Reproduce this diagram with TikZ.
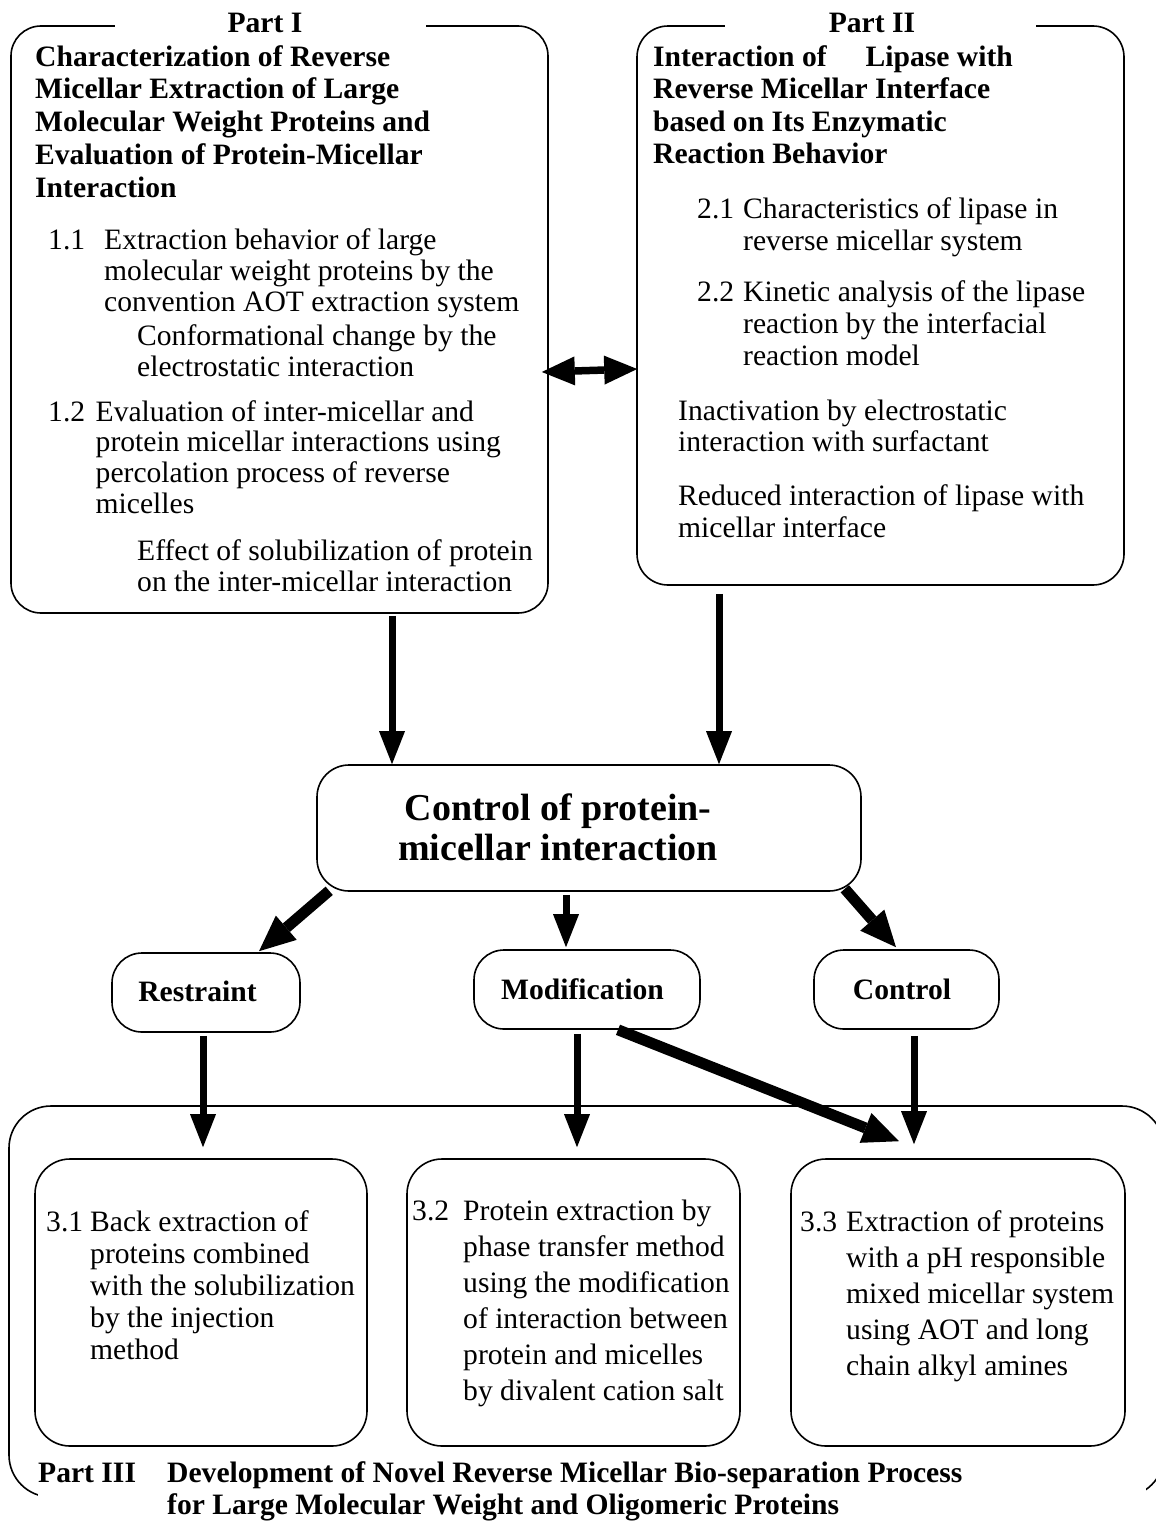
\documentclass[tikz,border=0pt]{standalone}
\usepackage{fontspec}
\setmainfont{Liberation Serif}
\usetikzlibrary{arrows.meta,calc}
\newcommand\myR[1]{\fontsize{29.6}{#1}\selectfont}
\newcommand\myB[1]{\bfseries\fontsize{29.6}{#1}\selectfont}
\begin{document}
\begin{tikzpicture}[x=1pt,y=-1pt,
  box/.style={draw,line width=1.6pt,rounded corners=#1,inner sep=0pt},
  box/.default=30pt,
  txt/.style={inner sep=0pt,align=left,anchor=north west},
  one/.style={inner sep=0pt,anchor=base west},
  lbl/.style={inner sep=0pt,anchor=base},
  arr/.style={line width=7pt,-{Triangle[length=33pt,width=26pt,line width=0pt]}},
  arrT/.style={line width=11pt,-{Triangle[length=36pt,width=32pt,line width=0pt]}},
  arrD/.style={line width=7.5pt,{Triangle[length=33pt,width=29pt,line width=0pt]}-{Triangle[length=33pt,width=29pt,line width=0pt]}}
]
\clip (0,0) rectangle (1156,1523);
\fill[white] (0,0) rectangle (1156,1523);

% boxes
\node[box=30pt, minimum width=537pt, minimum height=587pt] (p1) at (279.5,319.5) {};
\node[box=31pt, minimum width=487pt, minimum height=559pt] (p2) at (880.5,305.5) {};
\node[box=32pt, minimum width=544pt, minimum height=126pt] (ctr) at (589,828) {};
\node[box=30pt, minimum width=188pt, minimum height=79pt] (rst) at (206,992.5) {};
\node[box=30pt, minimum width=226pt, minimum height=79pt] (mod) at (587,989.5) {};
\node[box=30pt, minimum width=185pt, minimum height=79pt] (ctl) at (906.5,989.5) {};
\node[box=42pt, minimum width=1155pt, minimum height=391pt] (p3) at (586.5,1301.5) {};
\node[box=35pt, minimum width=332pt, minimum height=287pt] (b1) at (201,1302.5) {};
\node[box=35pt, minimum width=333pt, minimum height=287pt] (b2) at (573.5,1302.5) {};
\node[box=35pt, minimum width=334pt, minimum height=287pt] (b3) at (958,1302.5) {};

% gaps for titles
\fill[white] (115,10) rectangle (426,40);
\fill[white] (725,10) rectangle (1036,40);
\fill[white] (38,1452) rectangle (1146,1523);

% Part I
\node[lbl, font=\myB{32}] (t1) at (265,32) {Part I};
\node[txt, font=\myB{32.75}] (h1) at (35,43.1) {\strut Characterization of Reverse\\Micellar Extraction of Large\\Molecular Weight Proteins and\\Evaluation of Protein-Micellar\\Interaction};
\node[one, font=\myR{31}] (n11) at (48,249) {1.1};
\node[txt, font=\myR{31}] (t11) at (104,227.3) {\strut Extraction behavior of large\\molecular weight proteins by the\\convention AOT extraction system};
\node[txt, font=\myR{31}] (t11c) at (137,323.3) {\strut Conformational change by the\\electrostatic interaction};
\node[one, font=\myR{30.7}] (n12) at (48,421) {1.2};
\node[txt, font=\myR{30.7}] (t12) at (95.5,399.5) {\strut Evaluation of inter-micellar and\\protein micellar interactions using\\percolation process of reverse\\micelles};
\node[txt, font=\myR{31}] (t12c) at (137,538.3) {\strut Effect of solubilization of protein\\on the inter-micellar interaction};

% Part II
\node[lbl, font=\myB{32}] (t2) at (872,32) {Part II};
\node[txt, font=\myB{32.5}] (h2) at (653,43.25) {\strut Interaction of\hspace{39pt}Lipase with\\Reverse Micellar Interface\\based on Its Enzymatic\\Reaction Behavior};
\node[one, font=\myR{32}] (n21) at (697,218) {2.1};
\node[txt, font=\myR{32}] (t21) at (743,195.6) {\strut Characteristics of lipase in\\reverse micellar system};
\node[one, font=\myR{32}] (n22) at (697,301) {2.2};
\node[txt, font=\myR{32}] (t22) at (743,278.6) {\strut Kinetic analysis of the lipase\\reaction by the interfacial\\reaction model};
\node[txt, font=\myR{31.5}] (t23) at (678,397.9) {\strut Inactivation by electrostatic\\interaction with surfactant};
\node[txt, font=\myR{32}] (t24) at (678,482.6) {\strut Reduced interaction of lipase with\\micellar interface};

% center
\node[inner sep=0pt, align=center, anchor=north, font=\bfseries\fontsize{38}{40}\selectfont] (ct) at (558,792) {\strut Control of protein-\\micellar interaction};

% small labels
\node[lbl, font=\myB{32}] (lr) at (197.5,1001) {Restraint};
\node[lbl, font=\myB{32}] (lm) at (582.5,999) {Modification};
\node[lbl, font=\myB{32}] (lc) at (902,999) {Control};

% Part III
\node[one, font=\myR{32}] (n31) at (46,1231) {3.1};
\node[txt, font=\myR{32}] (t31) at (90,1208.6) {\strut Back extraction of\\proteins combined\\with the solubilization\\by the injection\\method};
\node[one, font=\myR{36}] (n32) at (412,1220) {3.2};
\node[txt, font=\myR{36}] (t32) at (463,1194.8) {\strut Protein extraction by\\phase transfer method\\using the modification\\of interaction between\\protein and micelles\\by divalent cation salt};
\node[one, font=\myR{36}] (n33) at (800,1231) {3.3};
\node[txt, font=\myR{36}] (t33) at (846,1205.8) {\strut Extraction of proteins\\with a pH responsible\\mixed micellar system\\using AOT and long\\chain alkyl amines};
\node[one, font=\myB{32}] (n3) at (38,1482) {Part III};
\node[txt, font=\myB{32}] (t3) at (167,1459.6) {\strut Development of Novel Reverse Micellar Bio-separation Process\\for Large Molecular Weight and Oligomeric Proteins};

% connectors
\draw[arr] ($(p1.south)+(112.5,2)$) -- ($(ctr.north)+(-197,0)$);
\draw[arr] ($(p2.south)+(-161.5,8)$) -- ($(ctr.north)+(130,0)$);
\draw[arrD] ($(p1.east)+(-7,52.5)$) -- ($(p2.west)+(1,63.5)$);
\draw[arrT] ($(ctr.south west)+(13,-1)$) -- ($(rst.north)+(53,-1)$);
\draw[arr] ($(ctr.south)+(-23,3)$) -- ($(mod.north)+(-21,-2)$);
\draw[arrT] ($(ctr.south east)+(-17,-3)$) -- ($(ctl.north)+(-10.5,-2)$);
\draw[arr] ($(rst.south)+(-3,3)$) -- ($(b1.north)+(2,-11)$);
\draw[arr] ($(mod.south)+(-10,4)$) -- ($(b2.north)+(3.5,-11)$);
\draw[arr] ($(ctl.south)+(7.5,6)$) -- ($(b3.north)+(-44,-14)$);
\draw[arrT] ($(mod.south)+(31,0)$) -- ($(b3.north)+(-59,-17)$);
\end{tikzpicture}
\end{document}
